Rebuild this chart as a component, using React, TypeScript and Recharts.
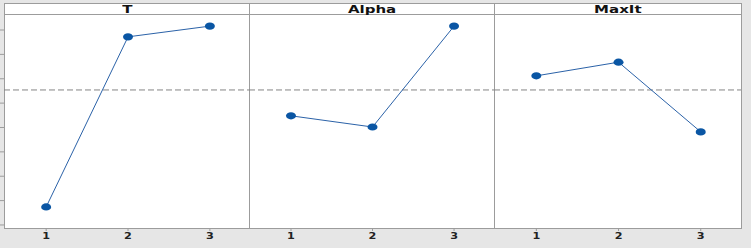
import React from "react";
import { LineChart, Line, XAxis, YAxis, ReferenceLine } from "recharts";

const levels = [1, 2, 3];
const factorNames = ["T", "Alpha", "MaxIt"];
const tValues = [10.37, 13.86, 14.08];
const alphaValues = [12.24, 12.01, 14.08];
const maxItValues = [13.06, 13.34, 11.91];
const grandMean = 12.77;
const yTicks = [10, 10.5, 11, 11.5, 12, 12.5, 13, 13.5, 14];
const xTicks = [1, 2, 3];

const seriesList = [tValues, alphaValues, maxItValues];

const BG = "#e6e6e6";
const BORDER = "#9c9c9c";
const LINE = "#2b62a8";
const DOT = "#0a56a4";

const panels = [
  { chartLeft: 0, chartWidth: 250, yAxisWidth: 4, boxLeft: 4, boxWidth: 246 },
  { chartLeft: 249, chartWidth: 245, yAxisWidth: 0, boxLeft: 249, boxWidth: 246 },
  { chartLeft: 494, chartWidth: 247, yAxisWidth: 0, boxLeft: 494, boxWidth: 248 },
];

const EllipseDot = (props: any) => {
  const { cx, cy } = props;
  if (cx == null || cy == null) return null;
  return <ellipse cx={cx} cy={cy} rx={5} ry={3.6} fill={DOT} />;
};

const XTick = (props: any) => {
  const { x, y, payload } = props;
  return (
    <text
      transform={`translate(${x},${y - 0.5}) scale(1.25,1)`}
      dy="0.71em"
      textAnchor="middle"
      fontFamily="DejaVu Sans"
      fontWeight="bold"
      fontSize={9}
      fill="#222"
    >
      {payload.value}
    </text>
  );
};

const EmptyTick = () => <g />;

export default function App() {
  return (
    <div
      style={{
        position: "absolute",
        left: 0,
        top: 0,
        width: 751,
        height: 248,
        background: BG,
        overflow: "hidden",
      }}
    >
      {panels.map((p, i) => {
        const data = levels.map((l, j) => ({ level: l, value: seriesList[i][j] }));
        return (
          <React.Fragment key={factorNames[i]}>
            <div
              style={{
                position: "absolute",
                left: p.boxLeft,
                top: 3,
                width: p.boxWidth,
                height: 226,
                boxSizing: "border-box",
                border: `1px solid ${BORDER}`,
                background: "#ffffff",
              }}
            />
            <div
              style={{
                position: "absolute",
                left: p.boxLeft,
                top: 14,
                width: p.boxWidth,
                height: 1,
                background: BORDER,
              }}
            />
            <div
              style={{
                position: "absolute",
                left: p.boxLeft,
                top: 4,
                width: p.boxWidth,
                height: 11,
                lineHeight: "11px",
                textAlign: "center",
                fontFamily: "DejaVu Sans",
                fontWeight: "bold",
                fontSize: 10,
                color: "#111",
              }}
            >
              <span style={{ display: "inline-block", transform: "scaleX(1.5)" }}>
                {factorNames[i]}
              </span>
            </div>
            <div style={{ position: "absolute", left: p.chartLeft, top: 0 }}>
              <LineChart
                width={p.chartWidth}
                height={248}
                data={data}
                margin={{ top: 15, right: 0, bottom: 0, left: 0 }}
              >
                <XAxis
                  dataKey="level"
                  type="number"
                  domain={[0.485, 3.49]}
                  ticks={xTicks}
                  allowDataOverflow
                  height={20}
                  axisLine={false}
                  tickLine={{ stroke: BORDER }}
                  tickSize={3}
                  tick={<XTick />}
                  interval={0}
                />
                <YAxis
                  type="number"
                  domain={[9.938, 14.308]}
                  ticks={yTicks}
                  allowDataOverflow
                  hide={p.yAxisWidth === 0}
                  width={p.yAxisWidth}
                  axisLine={false}
                  tickLine={{ stroke: BORDER }}
                  tickSize={4}
                  tick={<EmptyTick />}
                  interval={0}
                />
                <ReferenceLine
                  y={grandMean}
                  stroke="#858585"
                  strokeDasharray="6 3"
                  strokeWidth={1}
                />
                <Line
                  type="linear"
                  dataKey="value"
                  stroke={LINE}
                  strokeWidth={1}
                  dot={<EllipseDot />}
                  activeDot={false}
                  isAnimationActive={false}
                />
              </LineChart>
            </div>
          </React.Fragment>
        );
      })}
    </div>
  );
}
